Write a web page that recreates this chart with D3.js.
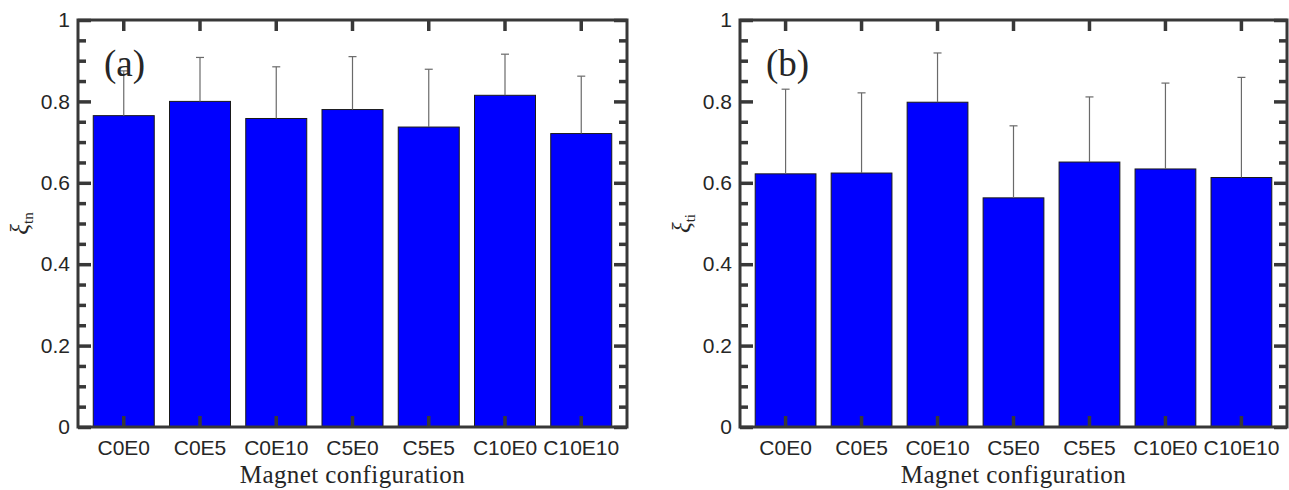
<!DOCTYPE html>
<html lang="en">
<head>
<meta charset="UTF-8">
<title>Magnet configuration bars</title>
<script src="https://d3js.org/d3.v7.min.js"></script>
<style>
    body { margin: 0; background: #fff; }
    .tick text { font-family: "Liberation Sans", Arial, sans-serif; font-size: 21px; fill: #262626; }
    .tick line { stroke: #383838; stroke-width: 3.5px; }
    .domain { display: none; }
    .frame { fill: none; stroke: #383838; stroke-width: 3px; }
    .bar { fill: #0000ff; stroke: #1a1a1a; stroke-width: 1px; }
    .err { stroke: #6a6a6a; stroke-width: 1.2px; }
    .serif { font-family: "Liberation Serif", "Times New Roman", serif; fill: #262626; }
</style>
</head>
<body>
<div id="chart"></div>
<script>
// data
const categories = ["C0E0", "C0E5", "C0E10", "C5E0", "C5E5", "C10E0", "C10E10"];
const xiTn = [0.765, 0.800, 0.758, 0.780, 0.737, 0.815, 0.721];
const xiTnErr = [0.110, 0.108, 0.127, 0.130, 0.142, 0.101, 0.141];
const xiTi = [0.622, 0.624, 0.798, 0.563, 0.651, 0.634, 0.613];
const xiTiErr = [0.208, 0.197, 0.121, 0.177, 0.160, 0.211, 0.246];
const majorTicks = [0, 0.2, 0.4, 0.6, 0.8, 1];
const minorTicks = d3.range(0, 1.0001, 0.05).filter(v => Math.abs(v * 5 - Math.round(v * 5)) > 1e-6);

const W = 1289, H = 490;
const svg = d3.select("#chart").append("svg")
    .attr("width", W).attr("height", H);

const panels = [
    { left: 78, right: 627, tag: "(a)", sub: "tn", values: xiTn, errs: xiTnErr },
    { left: 740, right: 1287, tag: "(b)", sub: "ti", values: xiTi, errs: xiTiErr }
];
const plotTop = 20, plotBottom = 427;

panels.forEach(p => {
    const g = svg.append("g");

    const x = d3.scaleBand()
        .domain(categories)
        .range([p.left, p.right])
        .paddingInner(0.2)
        .paddingOuter(0.2);
    const y = d3.scaleLinear().domain([0, 1]).range([plotBottom, plotTop]);

    // bars
    g.selectAll(".bar").data(p.values).enter()
        .append("rect")
        .attr("class", "bar")
        .attr("x", (d, i) => x(categories[i]))
        .attr("y", d => y(d))
        .attr("width", x.bandwidth())
        .attr("height", d => y(0) - y(d));

    // error bars (upper half only)
    const cx = i => x(categories[i]) + x.bandwidth() / 2;
    p.values.forEach((v, i) => {
        g.append("line").attr("class", "err")
            .attr("x1", cx(i)).attr("x2", cx(i))
            .attr("y1", y(v)).attr("y2", y(v + p.errs[i]));
        g.append("line").attr("class", "err")
            .attr("x1", cx(i) - 4).attr("x2", cx(i) + 4)
            .attr("y1", y(v + p.errs[i])).attr("y2", y(v + p.errs[i]));
    });

    // axes
    g.append("g").attr("transform", `translate(0,${plotBottom})`)
        .call(d3.axisBottom(x).tickSize(-11).tickPadding(13));
    g.append("g").attr("transform", `translate(0,${plotTop})`)
        .call(d3.axisTop(x).tickSize(-11).tickFormat(""));
    g.append("g").attr("transform", `translate(${p.left},0)`)
        .call(d3.axisLeft(y).tickValues(majorTicks).tickSize(-13).tickPadding(8).tickFormat(d3.format("~g")));
    g.append("g").attr("transform", `translate(${p.left},0)`)
        .call(d3.axisLeft(y).tickValues(minorTicks).tickSize(-8).tickFormat(""));
    g.append("g").attr("transform", `translate(${p.right},0)`)
        .call(d3.axisRight(y).tickValues(majorTicks).tickSize(-13).tickFormat(""));
    g.append("g").attr("transform", `translate(${p.right},0)`)
        .call(d3.axisRight(y).tickValues(minorTicks).tickSize(-8).tickFormat(""));

    g.append("rect").attr("class", "frame")
        .attr("x", p.left).attr("y", plotTop)
        .attr("width", p.right - p.left).attr("height", plotBottom - plotTop);

    // panel tag
    g.append("text").attr("class", "serif")
        .attr("x", p.left + 26).attr("y", 76)
        .style("font-size", "37px")
        .text(p.tag);

    // x label
    g.append("text").attr("class", "serif")
        .attr("x", (p.left + p.right) / 2).attr("y", 483)
        .attr("text-anchor", "middle")
        .style("font-size", "25px")
        .style("letter-spacing", "0.4px")
        .text("Magnet configuration");

    // y label
    const yl = g.append("text").attr("class", "serif")
        .attr("transform", `translate(${p.left - 50},${(plotTop + plotBottom) / 2}) rotate(-90)`)
        .attr("text-anchor", "middle")
        .style("font-size", "25px");
    yl.append("tspan").style("font-style", "italic").text("ξ");
    yl.append("tspan").attr("dy", 5).style("font-size", "15px").text(p.sub);
});
</script>
</body>
</html>
